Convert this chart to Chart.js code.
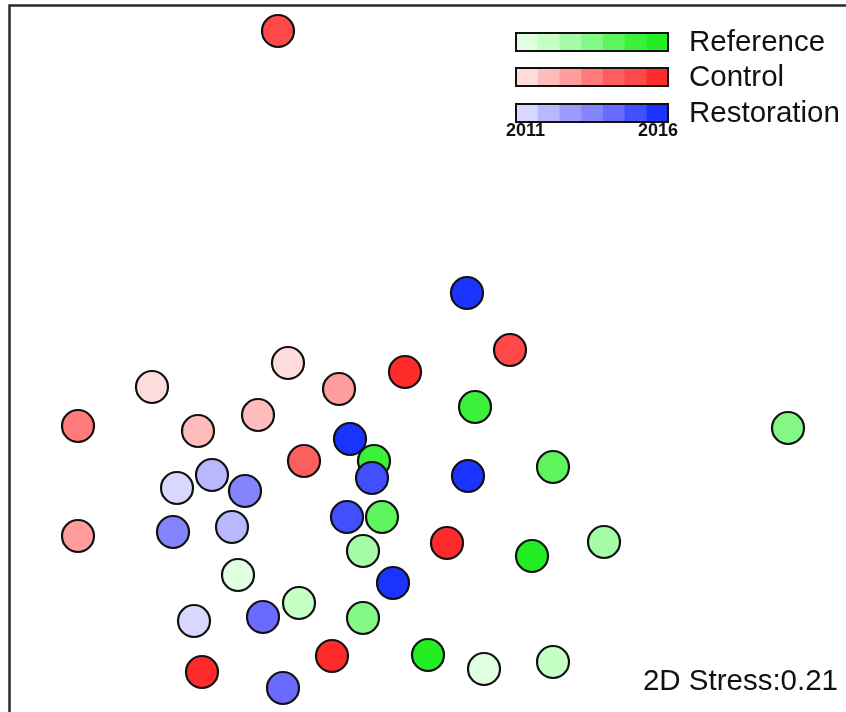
<!DOCTYPE html>
<html>
<head>
<meta charset="utf-8">
<script src="https://cdn.jsdelivr.net/npm/chart.js@4.4.1/dist/chart.umd.min.js"></script>
<style>
  html, body { margin: 0; padding: 0; background: #fff; }
  #wrap { width: 846px; height: 712px; position: relative; }
</style>
</head>
<body>
<div id="wrap"><canvas id="nmds"></canvas></div>
<script>
const referenceX = [-0.648, 0.336, -0.404, 0.612, 0.816, -0.148, -0.148, 1.552, 0.612, -0.072, 0.300, -0.104, 0.528, 0.112];
const referenceY = [-0.300, -0.676, -0.412, -0.648, -0.168, -0.204, -0.472, 0.288, 0.132, -0.068, 0.372, 0.156, -0.224, -0.620];
const referenceStage = [0, 0, 1, 1, 2, 2, 3, 3, 4, 4, 5, 5, 6, 6];

const controlX = [-0.448, -0.992, -0.808, -0.568, -0.244, -1.288, -1.288, -0.384, -0.488, 0.440, 0.020, 0.188, -0.792, -0.272];
const controlY = [0.548, 0.452, 0.276, 0.340, 0.444, -0.144, 0.296, 0.156, 1.876, 0.600, 0.512, -0.172, -0.688, -0.624];
const controlStage = [0, 0, 1, 1, 2, 2, 3, 4, 5, 5, 6, 6, 6, 6];

const restorationX = [-0.824, -0.892, -0.752, -0.672, -0.620, -0.908, -0.548, -0.468, -0.112, -0.212, 0.268, -0.200, 0.272, -0.028];
const restorationY = [-0.484, 0.048, 0.100, -0.108, 0.036, -0.128, -0.468, -0.752, 0.088, -0.068, 0.828, 0.244, 0.096, -0.332];
const restorationStage = [0, 0, 1, 1, 3, 3, 4, 4, 5, 5, 6, 6, 6, 6];

const groupNames = ['Reference', 'Control', 'Restoration'];
const yearLabels = ['2011', '2016'];
const stressValue = 0.21;

// colour ramps, light (first stage) to saturated (last stage)
const greenRamp = ['#e0ffe0', '#c4ffc4', '#a6fca6', '#84f884', '#5ef45e', '#3cf03c', '#22ee22'];
const redRamp = ['#ffdcdc', '#ffbcbc', '#ff9c9c', '#ff7a7a', '#ff5e5e', '#ff4848', '#ff2a2a'];
const blueRamp = ['#d8d8ff', '#b8b8ff', '#9a9aff', '#8484ff', '#6a6aff', '#4050ff', '#1a33ff'];

const toPoints = (xs, ys) => xs.map((x, i) => ({ x, y: ys[i] }));

function makeDataset(label, xs, ys, stages, ramp) {
  return {
    label,
    data: toPoints(xs, ys),
    backgroundColor: stages.map((s) => ramp[s]),
    borderColor: '#111',
    borderWidth: 2.2,
    pointRadius: 16,
    pointHoverRadius: 16,
  };
}

const FONT = '"Liberation Sans", Arial, sans-serif';

const decorPlugin = {
  id: 'decor',
  afterDraw(chart) {
    const { ctx } = chart;
    ctx.save();

    // plot frame (right / bottom sides fall outside the picture)
    ctx.strokeStyle = '#2a2a2a';
    ctx.lineWidth = 2.5;
    ctx.beginPath();
    ctx.moveTo(9.5, 712);
    ctx.lineTo(9.5, 5.5);
    ctx.lineTo(846, 5.5);
    ctx.stroke();

    // gradient legend
    const ramps = [greenRamp, redRamp, blueRamp];
    const barTops = [33, 68, 104];
    const barLeft = 516, barWidth = 152, barHeight = 18;
    const seg = barWidth / 7;
    ramps.forEach((ramp, g) => {
      ramp.forEach((c, i) => {
        ctx.fillStyle = c;
        ctx.fillRect(barLeft + i * seg, barTops[g], seg + 0.5, barHeight);
      });
      ctx.strokeStyle = '#111';
      ctx.lineWidth = 2;
      ctx.strokeRect(barLeft, barTops[g], barWidth, barHeight);

      ctx.fillStyle = '#111';
      ctx.font = '29.5px ' + FONT;
      ctx.textAlign = 'left';
      ctx.textBaseline = 'middle';
      ctx.fillText(groupNames[g], 689, barTops[g] + barHeight / 2 + 1);
    });

    ctx.font = 'bold 18px ' + FONT;
    ctx.textBaseline = 'middle';
    ctx.textAlign = 'left';
    ctx.fillText(yearLabels[0], 506, 131);
    ctx.textAlign = 'right';
    ctx.fillText(yearLabels[1], 678, 131);

    // stress annotation
    ctx.font = '29.5px ' + FONT;
    ctx.textAlign = 'right';
    ctx.fillText('2D Stress:' + stressValue.toFixed(2), 838, 682);

    ctx.restore();
  },
};

new Chart(document.getElementById('nmds'), {
  type: 'scatter',
  data: {
    datasets: [
      makeDataset(groupNames[2], restorationX, restorationY, restorationStage, blueRamp),
      makeDataset(groupNames[0], referenceX, referenceY, referenceStage, greenRamp),
      makeDataset(groupNames[1], controlX, controlY, controlStage, redRamp),
    ],
  },
  options: {
    responsive: true,
    maintainAspectRatio: false,
    animation: false,
    layout: { padding: 0, autoPadding: false },
    plugins: {
      legend: { display: false },
      tooltip: { enabled: false },
    },
    scales: {
      x: { type: 'linear', min: -1.6, max: 1.784, display: false },
      y: { type: 'linear', min: -0.848, max: 2.0, display: false },
    },
  },
  plugins: [decorPlugin],
});
</script>
</body>
</html>
